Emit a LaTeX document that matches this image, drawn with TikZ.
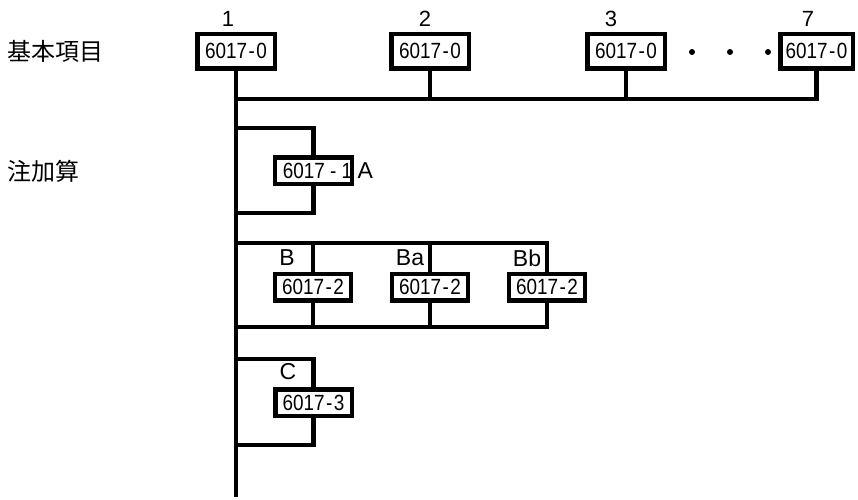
\documentclass[tikz,border=0pt]{standalone}
\usepackage{fontspec}
\setmainfont{Liberation Sans}
\newfontfamily\jpfont{Noto Sans CJK JP}
\newfontfamily\boxfont[FakeStretch=0.86]{Liberation Sans}
\usetikzlibrary{positioning, backgrounds}

\newcommand{\codetext}[1]{6017\kern1.5pt-\kern1.5pt#1}

\tikzset{
  code/.style={draw, line width=4.5pt, fill=white, inner sep=0pt,
    minimum width=77.5pt, minimum height=34.5pt,
    font=\boxfont\fontsize{22}{22}\selectfont},
  subcode/.style={code, minimum width=76.5pt, minimum height=26.5pt},
  tag/.style={font=\fontsize{22}{22}\selectfont, inner sep=0pt},
  label/.style={font=\fontsize{23}{23}\selectfont, inner sep=0pt},
  head/.style={font=\jpfont\fontsize{24}{24}\selectfont, anchor=west, inner sep=0pt},
  dot/.style={circle, fill, inner sep=0pt, minimum size=6pt},
  wire/.style={line width=4.5pt}
}

\begin{document}
\begin{tikzpicture}[x=1pt, y=-1pt]
    \useasboundingbox (0,0) rectangle (858,499);

    % Headings on the left
    \node[head] (hBase) at (7,51) {基本項目};
    \node[head] (hAdd) at (7,171) {注加算};

    % Basic items
    \node[code] (b1) at (236,51) {\codetext{0}};
    \node[code] (b2) at (430,51) {\codetext{0}};
    \node[code] (b3) at (626,51) {\codetext{0}};
    \node[code, minimum width=72.5pt] (b7) at (816.5,51) {\codetext{0}};
    \node[tag] (n1) at (228,19) {1};
    \node[tag] (n2) at (425,19) {2};
    \node[tag] (n3) at (611,19) {3};
    \node[tag] (n7) at (808,19) {7};
    \foreach \x [count=\i] in {692,730,768}
        \node[dot] (d\i) at (\x,52) {};

    % Additions A
    \node[subcode] (bA) at (313.5,170.5) {\hspace*{8pt}6017 - 1};
    \node[label, right=3pt of bA] (lA) {A};

    % Additions B
    \node[subcode, minimum width=76pt] (bB) at (313,287) {\codetext{2}};
    \node[subcode, minimum width=76pt] (bBa) at (430,287) {\codetext{2}};
    \node[subcode, minimum width=76pt] (bBb) at (547,287) {\codetext{2}};
    \node[label] (lB) at (287,258) {B};
    \node[label] (lBa) at (410,258) {Ba};
    \node[label] (lBb) at (527,258) {Bb};

    % Additions C
    \node[subcode] (bC) at (313.5,402.5) {\codetext{3}};
    \node[label] (lC) at (288,372) {C};

    % Trunk and branch points
    \coordinate (trunkEnd) at (236,497);
    \coordinate (busL) at (236,99);
    \coordinate (aTop) at (236,128);
    \coordinate (aBot) at (236,213);
    \coordinate (bTop) at (236,243);
    \coordinate (bBot) at (236,327);
    \coordinate (cTop) at (236,359);
    \coordinate (cBot) at (236,445);

    \begin{scope}[on background layer]
        \draw[wire] (b1.south) -- (trunkEnd);
        \draw[wire] (busL) -| (b7.south);
        \draw[wire] (b2.south) -- (b2.south |- busL);
        \draw[wire] (b3.south) -- (b3.south |- busL);
        % loop A
        \draw[wire] (aTop) -| (bA.center) |- (aBot);
        % loop B
        \draw[wire] (bTop) -| (bBb.center) |- (bBot);
        \draw[wire] (bB |- bTop) -- (bB |- bBot);
        \draw[wire] (bBa |- bTop) -- (bBa |- bBot);
        % loop C
        \draw[wire] (cTop) -| (bC.center) |- (cBot);
    \end{scope}
\end{tikzpicture}
\end{document}
